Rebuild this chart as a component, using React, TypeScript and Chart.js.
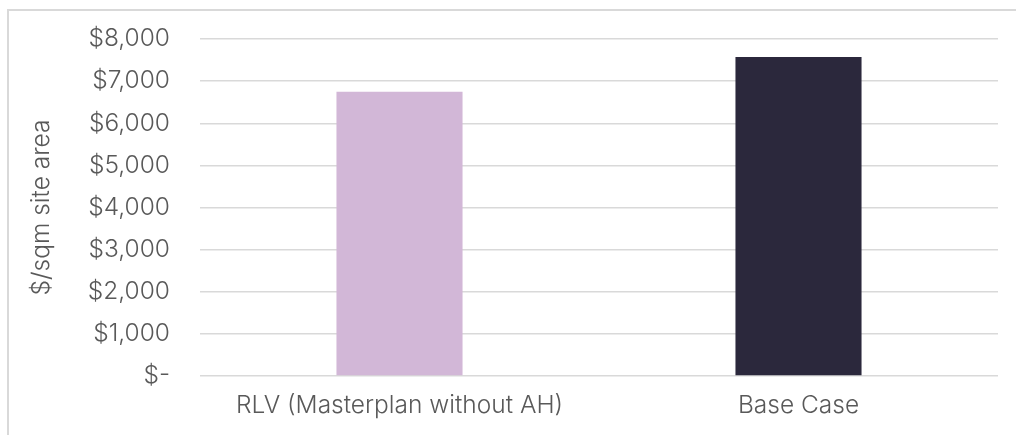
import React, { useEffect, useRef } from "react";
import { Chart, registerables } from "chart.js";

Chart.register(...registerables);

const categories = ["RLV (Masterplan without AH)", "Base Case"];
const values = [6750, 7575];
const barColors = ["#D2B7D7", "#2B283C"];
const yTicks = [0, 1000, 2000, 3000, 4000, 5000, 6000, 7000, 8000];
const yTitle = "$/sqm site area";

const FONT = "Inter, 'Noto Sans', sans-serif";
const TEXT = "#595959";

function formatDollar(v: number): string {
  if (v === 0) return "$-";
  return "$" + v.toLocaleString("en-US");
}

export default function App() {
  const canvasRef = useRef<HTMLCanvasElement | null>(null);

  useEffect(() => {
    document.body.style.margin = "0";
    const canvas = canvasRef.current;
    if (!canvas) return;
    const chart = new Chart(canvas, {
      type: "bar",
      data: {
        labels: categories,
        datasets: [
          {
            data: values,
            backgroundColor: barColors,
            borderWidth: 0,
            categoryPercentage: 1,
            barPercentage: 0.316,
          },
        ],
      },
      options: {
        animation: false,
        responsive: false,
        maintainAspectRatio: false,
        layout: { padding: { left: 23, right: 18, top: 39, bottom: 0 } },
        plugins: {
          legend: { display: false },
          tooltip: { enabled: false },
        },
        scales: {
          x: {
            grid: { display: false, drawTicks: false },
            border: { display: false },
            ticks: {
              color: TEXT,
              padding: 15,
              font: { family: FONT, size: 24.5, weight: 300 },
              maxRotation: 0,
            },
            afterFit: (axis: any) => {
              axis.height = 59;
            },
          },
          y: {
            min: 0,
            max: 8000,
            afterBuildTicks: (axis: any) => {
              axis.ticks = yTicks.map((v) => ({ value: v }));
            },
            grid: {
              color: "#D9D9D9",
              lineWidth: 1.5,
              drawTicks: false,
            },
            border: { display: false },
            ticks: {
              color: TEXT,
              padding: 30,
              font: { family: FONT, size: 24.5, weight: 300 },
              callback: (v: any) => formatDollar(Number(v)),
            },
            title: {
              display: true,
              text: yTitle,
              color: TEXT,
              font: { family: FONT, size: 24.5, weight: 300 },
            },
            afterFit: (axis: any) => {
              axis.width = 177;
              // the horizontal label gap should not push the plot area down
              axis.paddingTop = 0;
              axis.paddingBottom = 0;
            },
          },
        },
      },
    });
    return () => chart.destroy();
  }, []);

  return (
    <div style={{ position: "relative", width: 1016, height: 435, overflow: "hidden", background: "#fff" }}>
      <div
        style={{
          position: "absolute",
          left: 7,
          top: 9,
          width: 1040,
          height: 460,
          borderTop: "2px solid #D9D9D9",
          borderLeft: "2px solid #D9D9D9",
          boxSizing: "border-box",
        }}
      />
      <canvas ref={canvasRef} width={1016} height={435} style={{ position: "absolute", left: 0, top: 0 }} />
    </div>
  );
}
